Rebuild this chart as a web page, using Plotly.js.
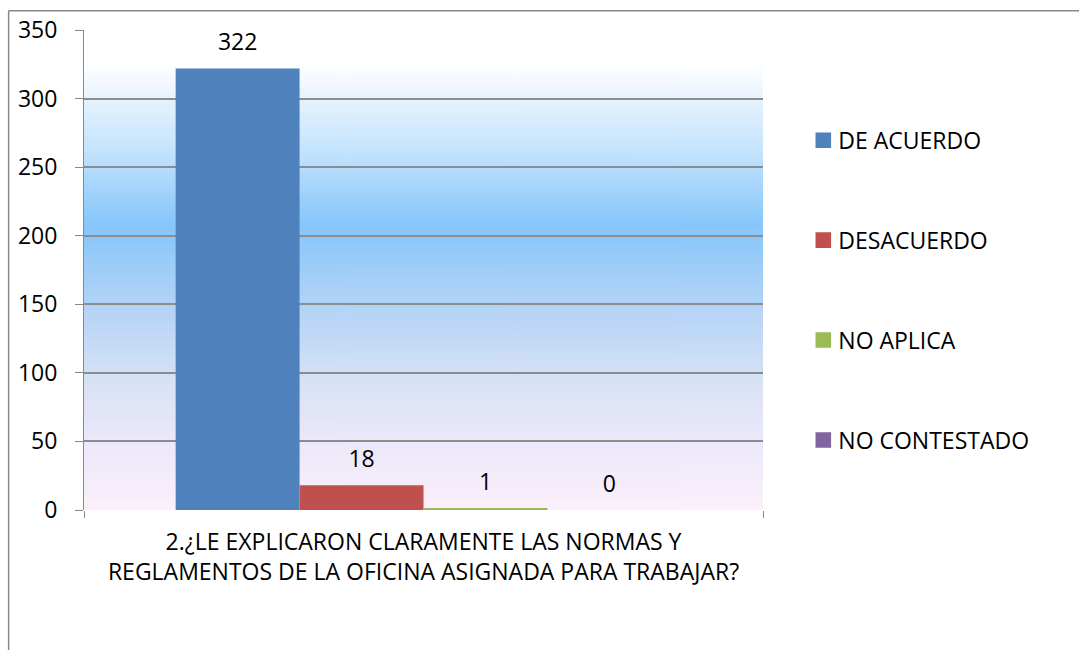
<!DOCTYPE html>
<html>
<head>
<meta charset="utf-8">
<script src="https://cdn.plot.ly/plotly-3.0.1.min.js"></script>
<style>
  body { margin: 0; background: #fff; }
  #chart { width: 1079px; height: 650px; }
</style>
</head>
<body>
<div id="chart"></div>
<script>
// 2. normas y reglamentos de la oficina
var pregunta = ["2.¿LE EXPLICARON CLARAMENTE LAS NORMAS Y<br>REGLAMENTOS DE LA OFICINA ASIGNADA PARA TRABAJAR?"];
var respuestas = ["DE ACUERDO", "DESACUERDO", "NO APLICA", "NO CONTESTADO"];
var valores = [322, 18, 1, 0];
var colores = ["#4F81BD", "#C0504D", "#9BBB59", "#8064A2"];
var yTicks = [0, 50, 100, 150, 200, 250, 300, 350];

// fondo degradado del area de trazado
function degradado() {
  var c = document.createElement("canvas");
  c.width = 4;
  c.height = 446;
  var ctx = c.getContext("2d");
  var g = ctx.createLinearGradient(0, 0, 0, c.height);
  g.addColorStop(0, "#ffffff");
  g.addColorStop(0.08, "#e6f2fd");
  g.addColorStop(0.19, "#c5e4fd");
  g.addColorStop(0.36, "#86c6fb");
  g.addColorStop(0.53, "#b0d2f7");
  g.addColorStop(0.71, "#d8e2f6");
  g.addColorStop(0.84, "#ebe8f9");
  g.addColorStop(1, "#fcf0fb");
  ctx.fillStyle = g;
  ctx.fillRect(0, 0, c.width, c.height);
  return c.toDataURL();
}

var data = [];
for (var i = 0; i < respuestas.length; i++) {
  data.push({
    type: "bar",
    name: respuestas[i],
    legendgroup: respuestas[i],
    x: pregunta,
    y: [valores[i]],
    text: [String(valores[i])],
    textposition: "outside",
    textfont: { family: "Open Sans", size: 23, color: "#000" },
    cliponaxis: false,
    marker: { color: colores[i] },
    hoverinfo: "name+y"
  });
}

var layout = {
  width: 1079,
  height: 650,
  margin: { l: 84, r: 316, t: 30, b: 140 },
  paper_bgcolor: "#fff",
  plot_bgcolor: "#fff",
  font: { family: "Open Sans", size: 23, color: "#000" },
  barmode: "group",
  bargap: 0.27,
  bargroupgap: 0,
  showlegend: true,
  legend: {
    x: 1.052,
    xanchor: "left",
    y: 0.815,
    yanchor: "top",
    traceorder: "grouped",
    tracegroupgap: 67,
    font: { family: "Open Sans", size: 23, color: "#000" }
  },
  xaxis: {
    type: "category",
    tickson: "boundaries",
    ticks: "outside",
    ticklen: 7,
    tickcolor: "#888",
    showline: false,
    showgrid: false,
    ticklabelstandoff: 16,
    tickfont: { family: "Open Sans", size: 23 }
  },
  yaxis: {
    range: [0, 350],
    tickvals: yTicks,
    ticks: "outside",
    ticklen: 8,
    tickcolor: "#888",
    showline: true,
    linecolor: "#888",
    linewidth: 1,
    gridcolor: "#8c8c8c",
    gridwidth: 1.5,
    zeroline: false,
    ticklabelstandoff: 13,
    tickfont: { family: "Open Sans", size: 23 }
  },
  images: [{
    source: degradado(),
    xref: "paper",
    yref: "y",
    x: 0,
    y: 325,
    sizex: 1,
    sizey: 325,
    xanchor: "left",
    yanchor: "top",
    sizing: "stretch",
    layer: "below"
  }],
  shapes: [
    { type: "line", xref: "paper", yref: "paper", x0: -0.111, x1: 1.5, y0: 1.04, y1: 1.04, line: { color: "#888", width: 1.5 } },
    { type: "line", xref: "paper", yref: "paper", x0: -0.111, x1: -0.111, y0: 1.04, y1: -0.3, line: { color: "#888", width: 1.5 } }
  ]
};

function ajustes(gd) {
  // cuadros de la leyenda un poco mas grandes, como en el original
  gd.querySelectorAll(".legendpoints path").forEach(function (p) {
    var t = p.getAttribute("transform") || "";
    p.setAttribute("transform", t + " translate(5,0) scale(1.3)");
  });
  // etiquetas de valor algo mas separadas de la barra
  gd.querySelectorAll("text.bartext").forEach(function (el) {
    var t = el.getAttribute("transform") || "";
    el.setAttribute("transform", "translate(0,-8) " + t);
  });
}

Plotly.newPlot("chart", data, layout, { displayModeBar: false }).then(ajustes);
</script>
</body>
</html>
